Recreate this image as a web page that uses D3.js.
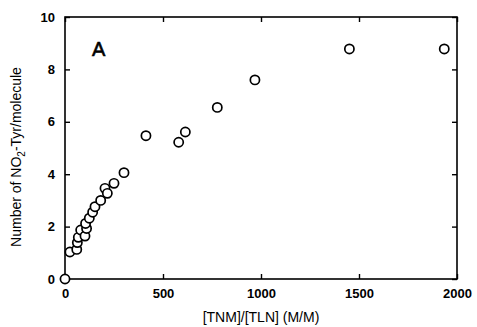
<!DOCTYPE html>
<html>
<head>
<meta charset="utf-8">
<script src="https://cdn.jsdelivr.net/npm/d3@7"></script>
<style>
  body{margin:0;background:#fff}
  text{font-family:"Liberation Sans",Arial,sans-serif;fill:#000}
</style>
</head>
<body>
<svg id="chart" width="477" height="327"></svg>
<script>
// ratio of TNM to TLN (M/M)
const ratio = [0, 25, 60, 63, 68, 80, 102, 110, 105, 124, 141, 153, 182, 204, 216, 250, 301, 413, 580, 614, 777, 969, 1451, 1935]
// nitrotyrosines per molecule
const nitroTyr = [0, 1.03, 1.13, 1.39, 1.59, 1.87, 1.64, 1.93, 2.12, 2.32, 2.55, 2.76, 3.0, 3.46, 3.27, 3.65, 4.06, 5.47, 5.22, 5.61, 6.55, 7.6, 8.78, 8.78]
const xTicks = [0, 500, 1000, 1500, 2000]
const yTicks = [0, 2, 4, 6, 8, 10]

const svg = d3.select("#chart")
const plotL = 65, plotR = 457, plotT = 17, plotB = 279

const x = d3.scaleLinear().domain([0, 2000]).range([plotL, plotR])
const y = d3.scaleLinear().domain([0, 10]).range([plotB, plotT])

// frame
svg.append("rect")
  .attr("x", plotL).attr("y", plotT)
  .attr("width", plotR - plotL).attr("height", plotB - plotT)
  .attr("fill", "none").attr("stroke", "#000").attr("stroke-width", 1.6)

function styleAxis(g){
  g.select(".domain").remove()
  g.selectAll(".tick line").attr("stroke", "#000").attr("stroke-width", 1.4)
  g.selectAll(".tick text").attr("font-size", 13).attr("font-weight", "bold")
}

// bottom + top ticks, inward
svg.append("g").attr("transform", `translate(0,${plotB})`)
  .call(d3.axisBottom(x).tickValues(xTicks).tickSize(-5).tickPadding(10).tickFormat(d3.format("d")))
  .call(styleAxis)
svg.append("g").attr("transform", `translate(0,${plotT})`)
  .call(d3.axisTop(x).tickValues(xTicks).tickSize(-5).tickFormat(""))
  .call(styleAxis)

// left + right ticks, inward
svg.append("g").attr("transform", `translate(${plotL},0)`)
  .call(d3.axisLeft(y).tickValues(yTicks).tickSize(-5).tickPadding(10).tickFormat(d3.format("d")))
  .call(styleAxis)
svg.append("g").attr("transform", `translate(${plotR},0)`)
  .call(d3.axisRight(y).tickValues(yTicks).tickSize(-5).tickFormat(""))
  .call(styleAxis)

// points
svg.append("g").selectAll("circle")
  .data(ratio.map((r, i) => [r, nitroTyr[i]]))
  .join("circle")
  .attr("cx", d => x(d[0]))
  .attr("cy", d => y(d[1]))
  .attr("r", 4.6)
  .attr("fill", "#fff")
  .attr("stroke", "#000")
  .attr("stroke-width", 1.7)

// panel letter
svg.append("text")
  .attr("x", 92).attr("y", 56)
  .attr("font-size", 20)
  .attr("stroke", "#000").attr("stroke-width", 0.6)
  .text("A")

// axis titles
svg.append("text")
  .attr("x", (plotL + plotR) / 2).attr("y", 322)
  .attr("text-anchor", "middle")
  .attr("font-size", 14)
  .text("[TNM]/[TLN] (M/M)")

const yl = svg.append("text")
  .attr("transform", "translate(21,157) rotate(-90)")
  .attr("text-anchor", "middle")
  .attr("font-size", 14)
yl.append("tspan").text("Number of NO")
yl.append("tspan").attr("font-size", 10).attr("dy", 4).text("2")
yl.append("tspan").attr("dy", -4).text("-Tyr/molecule")
</script>
</body>
</html>
